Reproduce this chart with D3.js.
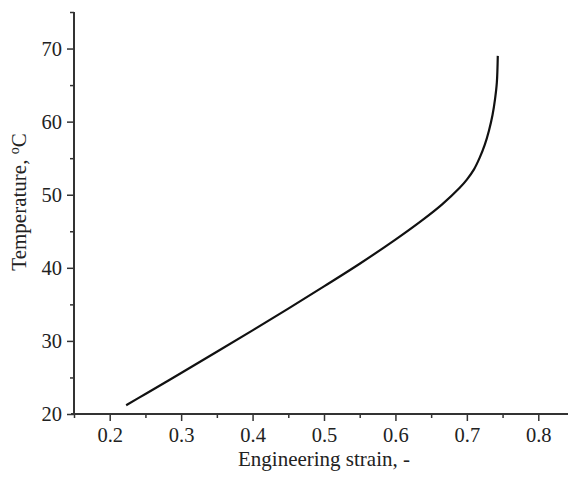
<!DOCTYPE html>
<html>
<head>
<meta charset="utf-8">
<script src="https://cdn.jsdelivr.net/npm/d3@7"></script>
<style>
  html, body { margin: 0; padding: 0; background: #fff; }
  svg text { font-family: "Liberation Serif", "Times New Roman", serif; fill: #222; }
</style>
</head>
<body>
<svg id="chart" width="568" height="477"></svg>
<script>
const strain = [0.223, 0.25, 0.30, 0.35, 0.40, 0.45, 0.50, 0.55, 0.60, 0.64, 0.665, 0.69, 0.70, 0.71, 0.718, 0.725, 0.731, 0.736, 0.7395, 0.742, 0.7433];
const temperature = [21.2, 22.74, 25.61, 28.51, 31.44, 34.41, 37.46, 40.56, 43.86, 46.7, 48.65, 50.95, 52.07, 53.47, 55.07, 56.82, 58.8, 60.95, 63.12, 65.37, 69.0];
const xTicks = [0.2, 0.3, 0.4, 0.5, 0.6, 0.7, 0.8];
const yTicks = [20, 30, 40, 50, 60, 70];
const xMinor = [0.15, 0.25, 0.35, 0.45, 0.55, 0.65, 0.75, 0.85];
const yMinor = [25, 35, 45, 55, 65, 75];
const xTitle = "Engineering strain, -";

const svg = d3.select("#chart");
const x = d3.scaleLinear().domain([0.15, 0.85]).range([74, 574]);
const y = d3.scaleLinear().domain([20, 75]).range([414, 12]);

const axisColor = "#333";

// minor ticks
const xm = svg.append("g").attr("transform", "translate(0,414)")
  .call(d3.axisBottom(x).tickValues(xMinor).tickSize(4).tickFormat(""));
const ym = svg.append("g").attr("transform", "translate(74,0)")
  .call(d3.axisLeft(y).tickValues(yMinor).tickSize(4).tickFormat(""));

const xa = svg.append("g").attr("transform", "translate(0,414)")
  .call(d3.axisBottom(x).tickValues(xTicks).tickSize(7).tickPadding(6).tickFormat(d3.format(".1f")));
const ya = svg.append("g").attr("transform", "translate(74,0)")
  .call(d3.axisLeft(y).tickValues(yTicks).tickSize(7).tickPadding(5).tickFormat(d3.format("d")));

[xm, ym, xa, ya].forEach(g => {
  g.select(".domain").remove();
  g.selectAll(".tick line").attr("stroke", axisColor).attr("stroke-width", 1.5);
  g.selectAll("text").attr("font-size", 20.5).attr("fill", "#222");
});

// axis lines
svg.append("line").attr("x1", 71).attr("x2", 568).attr("y1", 414).attr("y2", 414)
  .attr("stroke", axisColor).attr("stroke-width", 2);
svg.append("line").attr("x1", 74).attr("x2", 74).attr("y1", y(75)).attr("y2", 415)
  .attr("stroke", axisColor).attr("stroke-width", 2);

// curve
const pts = strain.map((s, i) => [s, temperature[i]]);
svg.append("path").datum(pts)
  .attr("fill", "none").attr("stroke", "#111").attr("stroke-width", 2.2)
  .attr("d", d3.line().x(d => x(d[0])).y(d => y(d[1])).curve(d3.curveCatmullRom.alpha(0.5)));

// titles
svg.append("text").attr("x", 324).attr("y", 466).attr("text-anchor", "middle")
  .attr("font-size", 21).text(xTitle);

const yt = svg.append("text").attr("transform", "translate(26,202) rotate(-90)")
  .attr("text-anchor", "middle").attr("font-size", 21);
yt.append("tspan").text("Temperature, ");
yt.append("tspan").attr("baseline-shift", "super").attr("font-size", 14).text("o");
yt.append("tspan").text("C");
</script>
</body>
</html>
